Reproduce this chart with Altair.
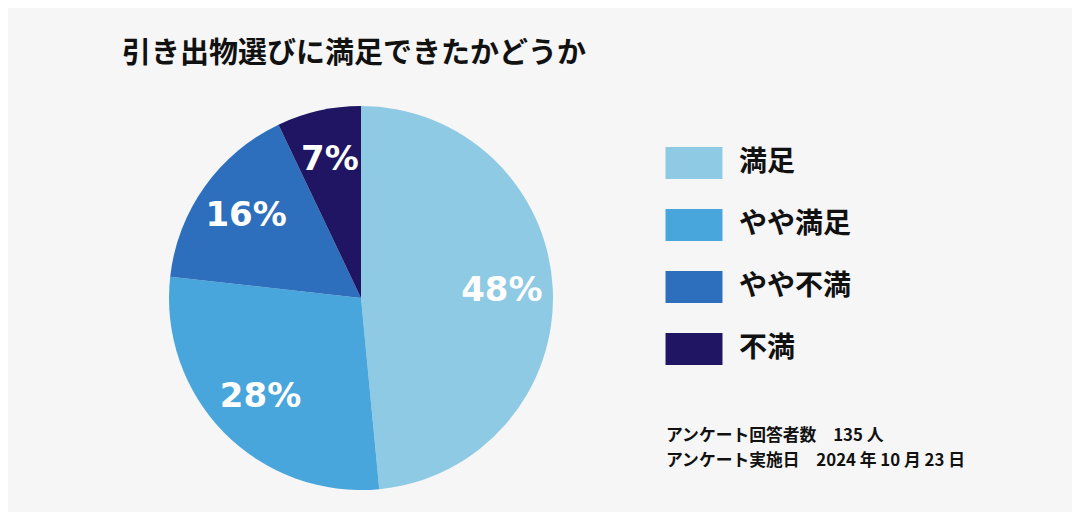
import altair as alt
import pandas as pd

categories = ["満足", "やや満足", "やや不満", "不満"]
values = [48, 28, 16, 7]
labels = ["48%", "28%", "16%", "7%"]
colors = ["#8fcae4", "#48a6dc", "#2d6fbd", "#1f1563"]
footnotes = ["アンケート回答者数　135 人", "アンケート実施日　2024 年 10 月 23 日"]
title_text = "引き出物選びに満足できたかどうか"

df = pd.DataFrame({
    "category": categories,
    "value": values,
    "label": labels,
    "order": list(range(len(categories))),
})

JP = "Noto Sans CJK JP"
CX, CY, R = 353, 210, 192

base = alt.Chart(df).encode(
    theta=alt.Theta("value:Q", stack=True),
    order=alt.Order("order:Q"),
)

pie = base.mark_arc(radius=R, stroke=None).encode(
    x=alt.value(CX),
    y=alt.value(CY),
    color=alt.Color(
        "category:N",
        scale=alt.Scale(domain=categories, range=colors),
        sort=categories,
        legend=alt.Legend(
            title=None,
            orient="none",
            legendX=670,
            legendY=59,
            symbolType="M-1.78,-1H1.78V1H-1.78Z",
            symbolSize=1024,
            symbolStrokeWidth=0,
            symbolOpacity=1,
            labelFont=JP,
            labelFontSize=28,
            labelFontWeight="bold",
            labelColor="#111111",
            labelOffset=29,
            rowPadding=30,
            padding=0,
        ),
    ),
)

text = base.mark_text(
    radius=141,
    font="DejaVu Sans",
    fontSize=34,
    fontWeight="bold",
    color="white",
).encode(
    x=alt.value(CX),
    y=alt.value(CY),
    text="label:N",
)

fn_df = pd.DataFrame({"line": footnotes, "idx": [0, 1]})
fn_style = dict(font=JP, fontSize=16.8, fontWeight="bold", align="left",
                baseline="middle", color="#111111")
fn1 = alt.Chart(fn_df).transform_filter("datum.idx == 0").mark_text(**fn_style).encode(
    x=alt.value(658), y=alt.value(348), text="line:N")
fn2 = alt.Chart(fn_df).transform_filter("datum.idx == 1").mark_text(**fn_style).encode(
    x=alt.value(658), y=alt.value(373), text="line:N")

chart = alt.layer(pie, text, fn1, fn2).properties(
    width=1064,
    height=424,
    padding={"left": 0, "top": 80, "right": 0, "bottom": 0},
    autosize=alt.AutoSizeParams(type="none"),
    background="#f6f6f6",
    title=alt.TitleParams(
        text=title_text,
        font=JP,
        fontSize=29,
        fontWeight="bold",
        color="#111111",
        anchor="start",
        frame="group",
        dx=114,
        dy=4,
        offset=0,
        baseline="alphabetic",
    ),
).configure_view(stroke=None)

chart.save("out.html", embed_options={"renderer": "svg", "actions": False})
